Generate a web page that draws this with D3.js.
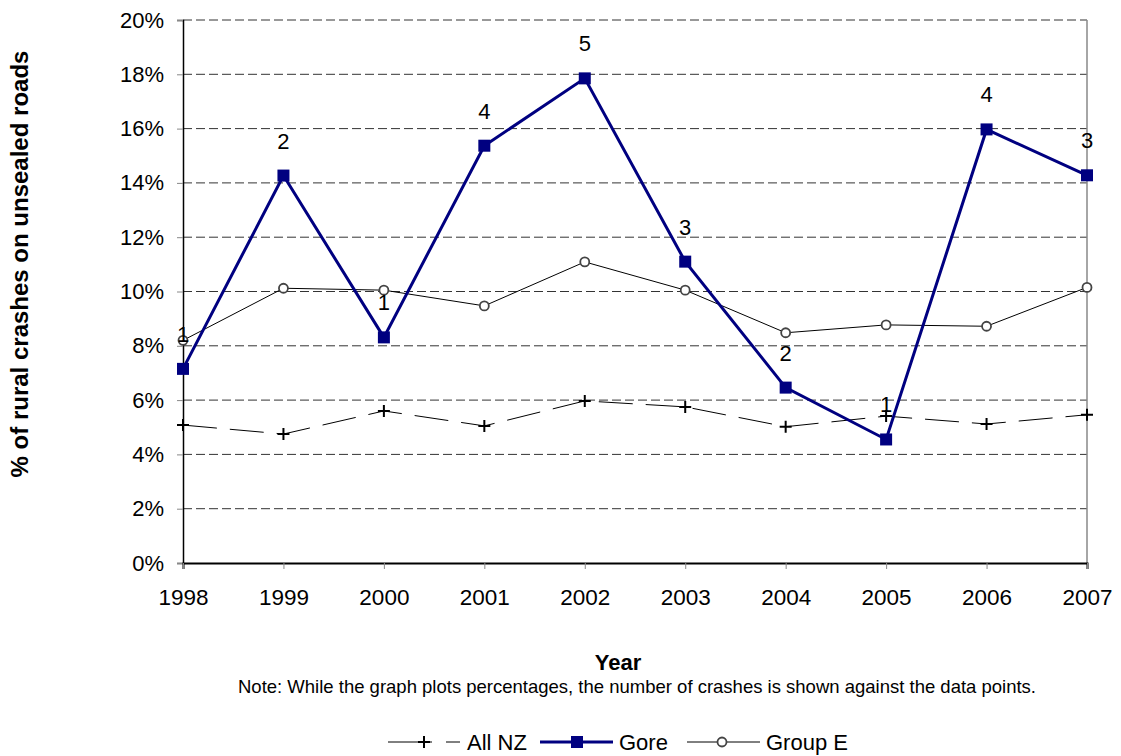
<!DOCTYPE html>
<html>
<head>
<meta charset="utf-8">
<script src="https://cdnjs.cloudflare.com/ajax/libs/d3/7.8.5/d3.min.js"></script>
<style>
body { margin: 0; background: #fff; }
svg text { font-family: "Liberation Sans", Arial, sans-serif; }
</style>
</head>
<body>
<svg id="chart" width="1121" height="756"></svg>
<script>
var years = [1998, 1999, 2000, 2001, 2002, 2003, 2004, 2005, 2006, 2007];
var allNZ = [5.08, 4.75, 5.6, 5.05, 5.97, 5.75, 5.02, 5.41, 5.12, 5.46];
var gore = [7.15, 14.27, 8.31, 15.37, 17.85, 11.1, 6.46, 4.55, 15.97, 14.28];
var groupE = [8.2, 10.12, 10.05, 9.47, 11.09, 10.05, 8.48, 8.77, 8.72, 10.15];
var goreCounts = [1, 2, 1, 4, 5, 3, 2, 1, 4, 3];
var yTicks = [0, 2, 4, 6, 8, 10, 12, 14, 16, 18, 20];

var svg = d3.select('#chart');
var plotL = 183, plotR = 1087, plotT = 20, plotB = 563;

var x = d3.scalePoint().domain(years).range([plotL, plotR]);
var y = d3.scaleLinear().domain([0, 20]).range([plotB, plotT]);

// gridlines
var gGrid = svg.append('g').attr('class', 'grid');
gGrid.selectAll('line').data(yTicks.filter(function(d) { return d > 0; }))
    .enter().append('line')
    .attr('x1', plotL).attr('x2', plotR)
    .attr('y1', function(d) { return y(d); }).attr('y2', function(d) { return y(d); })
    .attr('stroke', '#333').attr('stroke-width', 1).attr('stroke-dasharray', '9,4');

// right border
svg.append('line').attr('x1', plotR).attr('x2', plotR).attr('y1', plotT).attr('y2', plotB)
    .attr('stroke', '#888').attr('stroke-width', 1.5);

// y axis
var yAxis = d3.axisLeft(y).tickValues(yTicks).tickSize(6).tickPadding(13)
    .tickFormat(function(d) { return d + '%'; });
var gY = svg.append('g').attr('transform', 'translate(' + plotL + ',0)').call(yAxis);
gY.select('.domain').attr('stroke', '#000').attr('stroke-width', 1.5);
gY.selectAll('.tick line').attr('stroke', '#888');
gY.selectAll('text').attr('font-size', 22).attr('fill', '#000').attr('font-family', '"Liberation Sans", Arial, sans-serif');

// x axis
var xAxis = d3.axisBottom(x).tickSize(6).tickPadding(20);
var gX = svg.append('g').attr('transform', 'translate(0,' + plotB + ')').call(xAxis);
gX.select('.domain').attr('stroke', '#000').attr('stroke-width', 2);
gX.selectAll('.tick line').attr('stroke', '#888');
gX.selectAll('text').attr('font-size', 22.5).attr('fill', '#000').attr('font-family', '"Liberation Sans", Arial, sans-serif');

function pts(vals) {
    return vals.map(function(v, i) { return [x(years[i]), y(v)]; });
}
var line = d3.line();

// All NZ
svg.append('path').attr('d', line(pts(allNZ))).attr('fill', 'none')
    .attr('stroke', '#000').attr('stroke-width', 1).attr('stroke-dasharray', '34,13');
var gPlus = svg.append('g');
pts(allNZ).forEach(function(p) {
    gPlus.append('path').attr('d', 'M' + (p[0] - 6) + ',' + p[1] + 'H' + (p[0] + 6) + 'M' + p[0] + ',' + (p[1] - 6) + 'V' + (p[1] + 6))
        .attr('stroke', '#000').attr('stroke-width', 2);
});

// Group E
svg.append('path').attr('d', line(pts(groupE))).attr('fill', 'none')
    .attr('stroke', '#000').attr('stroke-width', 1);
svg.append('g').selectAll('circle').data(pts(groupE)).enter().append('circle')
    .attr('cx', function(d) { return d[0]; }).attr('cy', function(d) { return d[1]; })
    .attr('r', 4.5).attr('fill', '#fff').attr('stroke', '#444').attr('stroke-width', 1.8);

// Gore
svg.append('path').attr('d', line(pts(gore))).attr('fill', 'none')
    .attr('stroke', '#000080').attr('stroke-width', 3);
svg.append('g').selectAll('rect').data(pts(gore)).enter().append('rect')
    .attr('x', function(d) { return d[0] - 6; }).attr('y', function(d) { return d[1] - 6; })
    .attr('width', 12).attr('height', 12).attr('fill', '#000080');

svg.append('g').selectAll('text').data(pts(gore)).enter().append('text')
    .attr('x', function(d) { return d[0]; }).attr('y', function(d) { return d[1] - 27; })
    .attr('text-anchor', 'middle').attr('font-size', 22).attr('fill', '#000')
    .text(function(d, i) { return goreCounts[i]; });

// titles
svg.append('text').attr('transform', 'translate(28,264) rotate(-90)')
    .attr('text-anchor', 'middle').attr('font-size', 24).attr('font-weight', 'bold')
    .text('% of rural crashes on unsealed roads');
svg.append('text').attr('x', 618).attr('y', 670).attr('text-anchor', 'middle')
    .attr('font-size', 22).attr('font-weight', 'bold').text('Year');
svg.append('text').attr('x', 637).attr('y', 693).attr('text-anchor', 'middle')
    .attr('font-size', 18.5).text('Note: While the graph plots percentages, the number of crashes is shown against the data points.');

// legend
var ly = 742;
var gLeg = svg.append('g');
gLeg.append('line').attr('x1', 388).attr('x2', 432).attr('y1', ly).attr('y2', ly).attr('stroke', '#000').attr('stroke-width', 1);
gLeg.append('line').attr('x1', 446).attr('x2', 460).attr('y1', ly).attr('y2', ly).attr('stroke', '#000').attr('stroke-width', 1);
gLeg.append('path').attr('d', 'M418,' + ly + 'H430M424,' + (ly - 6) + 'V' + (ly + 6)).attr('stroke', '#000').attr('stroke-width', 2);
gLeg.append('text').attr('x', 467).attr('y', ly + 8).attr('font-size', 22).text('All NZ');

gLeg.append('line').attr('x1', 540).attr('x2', 613).attr('y1', ly).attr('y2', ly).attr('stroke', '#000080').attr('stroke-width', 3);
gLeg.append('rect').attr('x', 571).attr('y', ly - 6).attr('width', 12).attr('height', 12).attr('fill', '#000080');
gLeg.append('text').attr('x', 619).attr('y', ly + 8).attr('font-size', 22).text('Gore');

gLeg.append('line').attr('x1', 687).attr('x2', 760).attr('y1', ly).attr('y2', ly).attr('stroke', '#000').attr('stroke-width', 1);
gLeg.append('circle').attr('cx', 722).attr('cy', ly).attr('r', 4.5).attr('fill', '#fff').attr('stroke', '#444').attr('stroke-width', 1.8);
gLeg.append('text').attr('x', 766).attr('y', ly + 8).attr('font-size', 22).text('Group E');
</script>
</body>
</html>
